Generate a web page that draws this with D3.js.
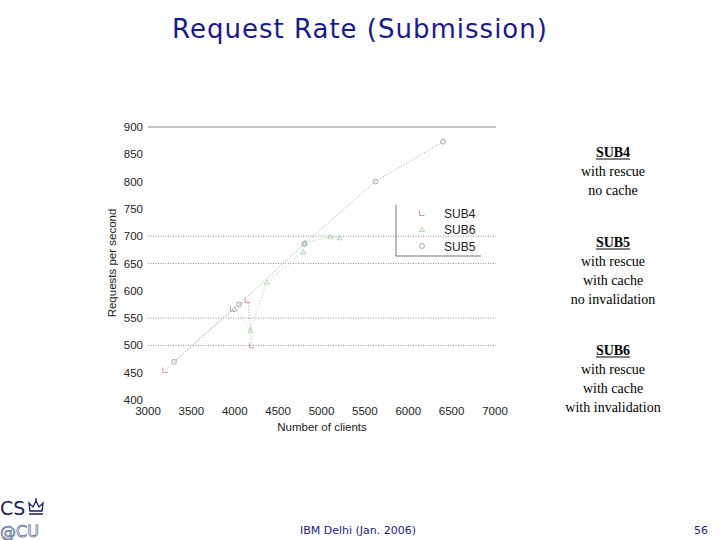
<!DOCTYPE html>
<html><head><meta charset="utf-8">
<script src="https://cdn.jsdelivr.net/npm/d3@7"></script>
<style>body{margin:0;background:#fff;} svg{display:block;}</style>
</head><body>
<script>
const title = "Request Rate (Submission)";
const xTicks = [3000,3500,4000,4500,5000,5500,6000,6500,7000];
const yTicks = [400,450,500,550,600,650,700,750,800,850,900];
const dottedGrid = [500,550,650,700];
const solidGrid = [900];
const seriesNames = ["SUB4","SUB6","SUB5"];
const sub4 = [[3200,455],[3980,567],[4150,583],[4200,500]];
const sub6 = [[4000,567],[4180,528],[4370,616],[4790,671],[4810,688],[5100,699],[5210,697]];
const sub5 = [[3300,470],[4050,575],[4800,686],[5620,800],[6400,873]];
const notes = [
  {head:"SUB4", lines:["with rescue","no cache"]},
  {head:"SUB5", lines:["with rescue","with cache","no invalidation"]},
  {head:"SUB6", lines:["with rescue","with cache","with invalidation"]}
];
const footer = "IBM Delhi (Jan. 2006)";
const pageNo = "56";

const W=720,H=540;
const svg = d3.select("body").append("svg").attr("width",W).attr("height",H);
svg.append("rect").attr("width",W).attr("height",H).attr("fill","#fff");

svg.append("text").attr("x",360).attr("y",38).attr("text-anchor","middle")
  .attr("font-family","DejaVu Sans").attr("font-size",26).attr("letter-spacing",1)
  .attr("fill","#1a1a8a").text(title);

const x = d3.scaleLinear().domain([3000,7000]).range([148,495]);
const y = d3.scaleLinear().domain([400,900]).range([400,127]);
const cf = "Liberation Sans, Arial, sans-serif";

// grid
svg.selectAll(".dg").data(dottedGrid).enter().append("line")
  .attr("x1",x(3000)).attr("x2",x(7000)+1).attr("y1",d=>y(d)).attr("y2",d=>y(d))
  .attr("stroke","#777").attr("stroke-width",0.8).attr("stroke-dasharray","1,1.5");
svg.selectAll(".sg").data(solidGrid).enter().append("line")
  .attr("x1",x(3000)).attr("x2",x(7000)+1).attr("y1",d=>y(d)).attr("y2",d=>y(d))
  .attr("stroke","#888").attr("stroke-width",1.2);

// y tick labels
svg.selectAll(".yt").data(yTicks).enter().append("text")
  .attr("x",143).attr("y",d=>y(d)+4).attr("text-anchor","end")
  .attr("font-family",cf).attr("font-size",11.5).attr("fill","#222").text(d=>d);
// x tick labels
svg.selectAll(".xt").data(xTicks).enter().append("text")
  .attr("x",d=>x(d)).attr("y",415).attr("text-anchor","middle")
  .attr("font-family",cf).attr("font-size",11.5).attr("fill","#222").text(d=>d);

svg.append("text").attr("x",322).attr("y",431).attr("text-anchor","middle")
  .attr("font-family",cf).attr("font-size",11.5).attr("fill","#222").text("Number of clients");
svg.append("text").attr("transform","translate(116,263) rotate(-90)").attr("text-anchor","middle")
  .attr("font-family",cf).attr("font-size",11.5).attr("fill","#222").text("Requests per second");

const line = d3.line().x(d=>x(d[0])).y(d=>y(d[1]));
const series = [
  {name:"SUB4", data:sub4, color:"#c98f8f", shape:"square"},
  {name:"SUB6", data:sub6, color:"#a8d6a8", shape:"triangle"},
  {name:"SUB5", data:sub5, color:"#9a9ab4", shape:"circle"}
];
function marker(g, shape, color, cx, cy){
  if(shape==="square") g.append("path").attr("d",`M${cx-2.5},${cy+2.5}V${cy-2.5}M${cx-2.5},${cy+2.5}H${cx+2.5}`).attr("stroke",color).attr("fill","none").attr("stroke-width",0.9);
  else if(shape==="triangle") g.append("path").attr("d",`M${cx-2.5},${cy+2}L${cx},${cy-2.5}L${cx+2.5},${cy+2}Z`).attr("stroke",color).attr("fill","none").attr("stroke-width",0.9);
  else g.append("circle").attr("cx",cx).attr("cy",cy).attr("r",2.4).attr("stroke",color).attr("fill","none").attr("stroke-width",0.9);
}
series.forEach(s=>{
  svg.append("path").datum(s.data).attr("d",line).attr("fill","none")
    .attr("stroke",s.color).attr("stroke-width",1).attr("stroke-dasharray","1,2");
  const g = svg.append("g");
  s.data.forEach(d=>marker(g,s.shape,s.color,x(d[0]),y(d[1])));
});

// legend
svg.append("path").attr("d","M396,205V256H481").attr("stroke","#777").attr("fill","none").attr("stroke-width",1);
seriesNames.forEach((n,i)=>{
  const s = series.find(t=>t.name===n);
  const ly = 213+i*16.5;
  marker(svg,s.shape,s.color,422,ly);
  svg.append("text").attr("x",444).attr("y",ly+4.5).attr("font-family",cf).attr("font-size",12).attr("fill","#222").text(n);
});

// notes on right
const nf = "Liberation Serif, Times New Roman, serif";
let ny=[157,247,355];
notes.forEach((nt,i)=>{
  const hy = ny[i];
  const t = svg.append("text").attr("x",613).attr("y",hy).attr("text-anchor","middle")
    .attr("font-family",nf).attr("font-size",14).attr("font-weight","bold").attr("fill","#000").text(nt.head);
  const bb = t.node().getBBox();
  svg.append("line").attr("x1",bb.x).attr("x2",bb.x+bb.width).attr("y1",hy+2).attr("y2",hy+2).attr("stroke","#000").attr("stroke-width",1);
  nt.lines.forEach((l,j)=>{
    svg.append("text").attr("x",613).attr("y",hy+19*(j+1)).attr("text-anchor","middle")
      .attr("font-family",nf).attr("font-size",14).attr("fill","#000").text(l);
  });
});

// footer
svg.append("text").attr("x",358).attr("y",534).attr("text-anchor","middle")
  .attr("font-family","DejaVu Sans").attr("font-size",11).attr("fill","#1c1c7c").text(footer);
svg.append("text").attr("x",708).attr("y",534).attr("text-anchor","end")
  .attr("font-family","DejaVu Sans").attr("font-size",11).attr("fill","#1c1c7c").text(pageNo);

// logo
svg.append("text").attr("x",0).attr("y",515).attr("font-family","DejaVu Sans").attr("font-size",19).attr("fill","#1c1c5c").text("CS");
svg.append("text").attr("x",0).attr("y",537).attr("font-family","DejaVu Sans").attr("font-size",16)
  .attr("fill","none").attr("stroke","#6a7aa0").attr("stroke-width",0.8).text("@CU");
// crown
const cr = svg.append("g").attr("stroke","#1c1c5c").attr("fill","none").attr("stroke-width",1.3);
cr.append("path").attr("d","M29,514H43M30,511H42L43,503L39,507L36,501L33,507L29,503Z");
cr.append("line").attr("x1",36).attr("x2",36).attr("y1",498).attr("y2",501);
</script>
</body></html>
